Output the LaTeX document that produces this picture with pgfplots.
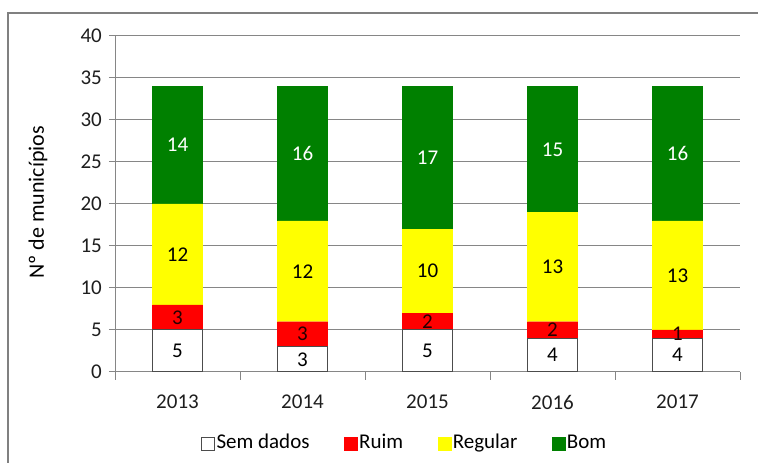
\documentclass[border=0pt]{standalone}
\usepackage{fontspec}
\setmainfont{Carlito}
\usepackage{pgfplots}
\pgfplotsset{compat=1.18}
\definecolor{bom}{RGB}{0,128,0}
\definecolor{regular}{RGB}{255,255,0}
\definecolor{ruim}{RGB}{255,0,0}
\definecolor{gridgray}{RGB}{134,134,134}
\definecolor{framegray}{RGB}{128,128,128}
\definecolor{txt}{RGB}{30,30,30}
\begin{document}
\fontsize{21bp}{25bp}\selectfont
\begin{tikzpicture}
\useasboundingbox (0,0) rectangle (758bp,463bp);
\draw[framegray, line width=1.5bp] (8bp,0) -- (8bp,450bp) -- (758bp,450bp);
\begin{axis}[
  at={(115bp,91bp)}, anchor=south west,
  scale only axis, width=625bp, height=336bp,
  xmin=-0.5, xmax=4.5, ymin=0, ymax=40,
  ybar stacked, bar width=50bp,
  axis x line*=bottom, axis y line*=left,
  axis line style={gridgray, line width=1bp, -},
  ytick={0,5,...,40},
  ymajorgrids, grid style={gridgray, line width=1bp},
  xtick={0,1,2,3,4}, xticklabels={2013,2014,2015,2016,2017},
  minor xtick={-0.5,0.5,1.5,2.5,3.5,4.5},
  tick align=outside,
  major tick length=6bp, minor tick length=8bp,
  tick style={gridgray, line width=1bp},
  major x tick style={draw=none},
  xticklabel style={yshift=-10bp},
  /pgf/number format/assume math mode=true,
  tick label style={font=\fontsize{21bp}{25bp}\selectfont, text=txt},
  ylabel={Nº de municípios},
  ylabel style={at={(axis description cs:-0.123,0.505)}, anchor=center, font=\fontsize{22bp}{26bp}\selectfont, text=black},
  visualization depends on=rawy \as \rawy,
  nodes near coords={\pgfmathprintnumber{\rawy}},
  every node near coord/.append style={anchor=center, font=\fontsize{21bp}{25bp}\selectfont},
  legend columns=4,
  legend style={draw=none, at={(axis description cs:0.463,-0.212)}, anchor=center,
    font=\fontsize{21bp}{25bp}\selectfont,
    /tikz/every even column/.append style={column sep=32.5bp}},
  legend image code/.code={\draw[#1, bar width=0pt, bar shift=0pt] (0bp,-7bp) rectangle (13bp,6bp);},
]
\addplot[fill=white, draw=black!70, line width=1bp, every node near coord/.append style={text=black}]
  coordinates {(0,5) (1,3) (2,5) (3,4) (4,4)};
\addlegendentry{Sem dados}
\addplot[fill=ruim, draw=ruim, line width=0.1bp, every node near coord/.append style={text=black!85!red}]
  coordinates {(0,3) (1,3) (2,2) (3,2) (4,1)};
\addlegendentry{Ruim}
\addplot[fill=regular, draw=regular, line width=0.1bp, every node near coord/.append style={text=black}]
  coordinates {(0,12) (1,12) (2,10) (3,13) (4,13)};
\addlegendentry{Regular}
\addplot[fill=bom, draw=bom, line width=0.1bp, every node near coord/.append style={text=white}]
  coordinates {(0,14) (1,16) (2,17) (3,15) (4,16)};
\addlegendentry{Bom}
\end{axis}
\end{tikzpicture}
\end{document}
